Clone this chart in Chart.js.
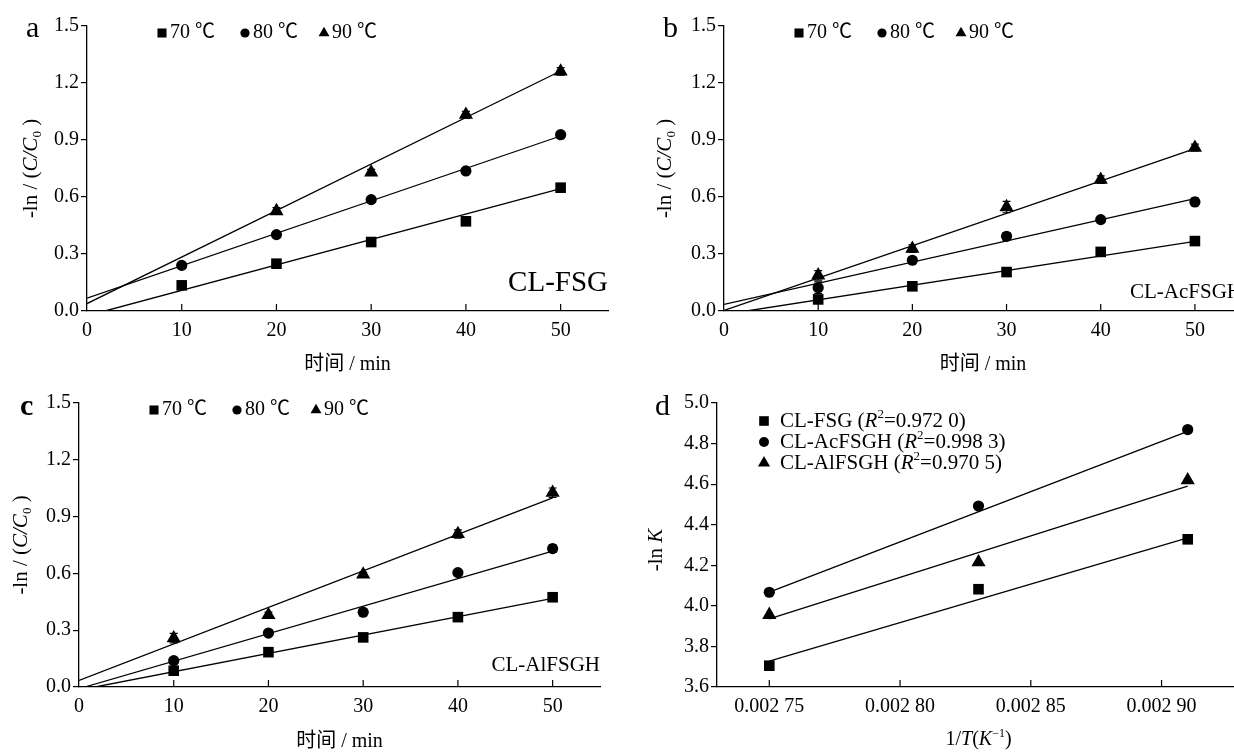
<!DOCTYPE html>
<html>
<head>
<meta charset="utf-8">
<script src="https://cdn.jsdelivr.net/npm/chart.js@4.4.0/dist/chart.umd.min.js"></script>
<style>
html, body { margin: 0; padding: 0; background: #fff; width: 1234px; height: 752px; overflow: hidden; position: relative; }
canvas { position: absolute; }
</style>
</head>
<body>
<canvas id="chartA" style="left:0;top:0;width:617px;height:376px" width="617" height="376"></canvas>
<canvas id="chartB" style="left:617px;top:0;width:640px;height:376px" width="640" height="376"></canvas>
<canvas id="chartC" style="left:0;top:376px;width:617px;height:376px" width="617" height="376"></canvas>
<canvas id="chartD" style="left:617px;top:376px;width:640px;height:376px" width="640" height="376"></canvas>
<script>
// ---- data ----
const times = [10, 20, 30, 40, 50];
const tempLabels = ['70 ℃', '80 ℃', '90 ℃'];
const timeTicks = [0, 10, 20, 30, 40, 50];
const lnTicks = [0, 0.3, 0.6, 0.9, 1.2, 1.5];

// CL-FSG
const fsg70 = [0.135, 0.249, 0.363, 0.472, 0.649];
const fsg80 = [0.240, 0.402, 0.586, 0.737, 0.928];
const fsg90 = [null, 0.526, 0.730, 1.033, 1.261];
const fsg70Err = [0.02, 0.01, 0.01, 0.01, 0.01];
const fsg80Err = [0.01, 0.01, 0.012, 0.01, 0.015];
const fsg90Err = [0, 0.018, 0.015, 0.018, 0.02];
const fsg70Fit = [[1.9, 0], [50, 0.644]];
const fsg80Fit = [[0, 0.068], [50, 0.921]];
const fsg90Fit = [[0, 0.039], [50, 1.263]];

// CL-AcFSGH
const ac70 = [0.061, 0.130, 0.205, 0.311, 0.368];
const ac80 = [0.123, 0.267, 0.393, 0.481, 0.574];
const ac90 = [0.188, 0.328, 0.547, 0.691, 0.860];
const ac70Err = [0.01, 0.01, 0.01, 0.012, 0.01];
const ac80Err = [0.03, 0.015, 0.02, 0.01, 0.02];
const ac90Err = [0.025, 0.02, 0.03, 0.02, 0.018];
const ac70Fit = [[2.4, 0], [50, 0.366]];
const ac80Fit = [[0, 0.035], [50, 0.591]];
const ac90Fit = [[0, 0.003], [50, 0.855]];

// CL-AlFSGH
const al70 = [0.086, 0.184, 0.262, 0.369, 0.474];
const al80 = [0.139, 0.285, 0.395, 0.604, 0.731];
const al90 = [0.258, 0.381, 0.595, 0.808, 1.026];
const al70Err = [0.01, 0.01, 0.01, 0.01, 0.01];
const al80Err = [0.01, 0.01, 0.015, 0.015, 0.02];
const al90Err = [0.025, 0.015, 0.01, 0.022, 0.025];
const al70Fit = [[1.7, 0], [50, 0.468]];
const al80Fit = [[0.6, 0], [50, 0.718]];
const al90Fit = [[0, 0.035], [50, 0.999]];

// Arrhenius plot
const invT = [0.00275, 0.00283, 0.00291];
const lnkFsg = [3.705, 4.082, 4.328];
const lnkAc = [4.067, 4.492, 4.869];
const lnkAl = [3.956, 4.215, 4.620];
const lnkFsgFit = [3.728, 4.335];
const lnkAcFit = [4.068, 4.860];
const lnkAlFit = [3.936, 4.590];
const sampleNames = ['CL-FSG', 'CL-AcFSGH', 'CL-AlFSGH'];
const r2Values = ['0.972 0', '0.998 3', '0.970 5'];
const invTTicks = [0.00275, 0.00280, 0.00285, 0.00290];
const lnkTicks = [3.6, 3.8, 4.0, 4.2, 4.4, 4.6, 4.8, 5.0];

// ---- drawing helpers ----
const SERIF = "'Liberation Serif', 'Times New Roman', 'Noto Sans CJK SC', serif";
const markerStyles = ['rect', 'circle', 'triangle'];
const markerRadii = [7.5, 5.6, 8.2];

function fontFor(style, size) {
    const small = style === 'sub' || style === 'sup';
    const s = small ? Math.round(size * 0.62) : size;
    return (style === 'i' ? 'italic ' : '') + (style === 'b' ? 'bold ' : '') + s + 'px ' + SERIF;
}

// parts: [[text, style], ...] where style is '', 'i', 'b', 'sub' or 'sup'
function drawRich(ctx, parts, x, y, size, align) {
    let total = 0;
    parts.forEach(p => { ctx.font = fontFor(p[1], size); total += ctx.measureText(p[0]).width; });
    let cx = align === 'center' ? x - total / 2 : align === 'right' ? x - total : x;
    ctx.textAlign = 'left';
    ctx.textBaseline = 'middle';
    parts.forEach(p => {
        ctx.font = fontFor(p[1], size);
        const dy = p[1] === 'sub' ? size * 0.3 : p[1] === 'sup' ? -size * 0.32 : 0;
        ctx.fillText(p[0], cx, y + dy);
        cx += ctx.measureText(p[0]).width;
    });
}

const panelDecor = {
    id: 'panelDecor',
    beforeDatasetsDraw(chart, args, opts) {
        // error bars with caps
        const ctx = chart.ctx;
        const xs = chart.scales.x, ys = chart.scales.y;
        ctx.save();
        ctx.strokeStyle = '#000';
        ctx.lineWidth = 1.2;
        (opts.errors || []).forEach((errs, si) => {
            errs.forEach((e, i) => {
                const v = opts.series[si][i];
                if (v === null || !e) return;
                const px = xs.getPixelForValue(times[i]);
                const top = ys.getPixelForValue(v + e);
                const bot = ys.getPixelForValue(v - e);
                ctx.beginPath();
                ctx.moveTo(px, top); ctx.lineTo(px, bot);
                ctx.moveTo(px - 4, top); ctx.lineTo(px + 4, top);
                ctx.moveTo(px - 4, bot); ctx.lineTo(px + 4, bot);
                ctx.stroke();
            });
        });
        ctx.restore();
    },
    afterDraw(chart, args, opts) {
        const ctx = chart.ctx;
        const area = chart.chartArea;
        const xs = chart.scales.x;
        ctx.save();
        ctx.fillStyle = '#000';
        ctx.strokeStyle = '#000';

        // inward tick marks on the x axis
        ctx.lineWidth = 1.2;
        xs.ticks.forEach(t => {
            const px = xs.getPixelForValue(t.value);
            if (Math.abs(px - area.left) < 2) return;
            ctx.beginPath();
            ctx.moveTo(px, area.bottom);
            ctx.lineTo(px, area.bottom - 7);
            ctx.stroke();
        });

        // panel letter
        ctx.font = (opts.letterBold ? 'bold ' : '') + '30px ' + SERIF;
        ctx.textAlign = 'left';
        ctx.textBaseline = 'alphabetic';
        ctx.fillText(opts.letter, opts.letterPos[0], opts.letterPos[1]);

        // axis titles
        drawRich(ctx, opts.xTitle, (area.left + area.right) / 2, opts.xTitleY, 20, 'center');
        ctx.save();
        ctx.translate(opts.yTitleX, (area.top + area.bottom) / 2 + (opts.yTitleShift || 0));
        ctx.rotate(-Math.PI / 2);
        drawRich(ctx, opts.yTitle, 0, 0, 21, 'center');
        ctx.restore();

        // sample tag inside the plot
        if (opts.tag) {
            ctx.font = opts.tagSize + 'px ' + SERIF;
            ctx.textAlign = 'right';
            ctx.textBaseline = 'middle';
            ctx.fillText(opts.tag, area.right, opts.tagY);
        }

        // legend
        const lg = opts.legend;
        lg.items.forEach((item, i) => {
            const mx = area.left + lg.x[i];
            const my = area.top + lg.y[i];
            Chart.helpers.drawPoint(ctx, {
                pointStyle: markerStyles[i], radius: lg.radii[i], borderWidth: 0, rotation: 0
            }, mx, my);
            drawRich(ctx, item, mx + lg.gap, my, lg.size, 'left');
        });
        ctx.restore();
    }
};

function pts(xv, yv) {
    return xv.map((x, i) => ({ x: x, y: yv[i] })).filter(p => p.y !== null);
}

function buildDatasets(xv, series, fits) {
    const sets = [];
    fits.forEach(f => {
        sets.push({
            data: f.map(p => ({ x: p[0], y: p[1] })),
            showLine: true, pointRadius: 0, borderColor: '#000', borderWidth: 1.3,
            order: 2
        });
    });
    series.forEach((s, i) => {
        sets.push({
            data: pts(xv, s),
            showLine: false, pointStyle: markerStyles[i], pointRadius: markerRadii[i],
            backgroundColor: '#000', borderColor: '#000', borderWidth: 0,
            order: 1
        });
    });
    return sets;
}

function axisCommon(tickValues, fmt) {
    return {
        type: 'linear',
        afterBuildTicks: s => { s.ticks = tickValues.map(v => ({ value: v })); },
        ticks: {
            color: '#000', font: { family: SERIF, size: 20 },
            autoSkip: false, maxRotation: 0, callback: fmt
        },
        border: { display: true, color: '#000', width: 1.3 }
    };
}

function makeChart(id, geo, xRange, xTicks, xFmt, yRange, yTicks, yFmt, datasets, decor) {
    const canvas = document.getElementById(id);
    const W = canvas.width, H = canvas.height;
    const xAxis = axisCommon(xTicks, xFmt);
    Object.assign(xAxis, {
        min: xRange[0], max: xRange[1],
        grid: { display: false },
        afterFit: s => { s.height = H - geo.bottom; }
    });
    xAxis.ticks.padding = 0;
    const yAxis = axisCommon(yTicks, yFmt);
    Object.assign(yAxis, {
        min: yRange[0], max: yRange[1],
        grid: { drawOnChartArea: false, drawTicks: true, tickLength: 6, color: '#000', lineWidth: 1.2 },
        afterFit: s => { s.width = geo.left; }
    });
    yAxis.ticks.padding = 2;
    return new Chart(canvas, {
        type: 'scatter',
        data: { datasets: datasets },
        options: {
            responsive: false,
            animation: false,
            layout: { padding: { left: 0, top: geo.top, right: W - geo.right, bottom: 0 } },
            scales: { x: xAxis, y: yAxis },
            plugins: { legend: { display: false }, tooltip: { enabled: false }, panelDecor: decor }
        },
        plugins: [panelDecor]
    });
}

const lnTitle = [['-ln / (', ''], ['C', 'i'], ['/', 'i'], ['C', 'i'], ['0', 'sub'], [' )', '']];
const timeTitle = [['时间 / min', '']];
const tempLegend = {
    items: tempLabels.map(t => [[t, '']]),
    x: [75, 158, 237], y: [7, 7, 7], radii: [6.4, 4.6, 6.3], gap: 8, size: 20
};
const fmtTime = v => String(v);
const fmtLn = v => v.toFixed(1);

makeChart('chartA', { left: 87, top: 26, right: 608, bottom: 311 },
    [0, 55], timeTicks, fmtTime, [0, 1.5], lnTicks, fmtLn,
    buildDatasets(times, [fsg70, fsg80, fsg90], [fsg70Fit, fsg80Fit, fsg90Fit]),
    {
        letter: 'a', letterPos: [26, 37], xTitle: timeTitle, xTitleY: 365, yTitle: lnTitle, yTitleX: 31,
        tag: 'CL-FSG', tagSize: 29, tagY: 283, legend: tempLegend,
        series: [fsg70, fsg80, fsg90], errors: [fsg70Err, fsg80Err, fsg90Err]
    });

makeChart('chartB', { left: 107, top: 26, right: 625, bottom: 311 },
    [0, 55], timeTicks, fmtTime, [0, 1.5], lnTicks, fmtLn,
    buildDatasets(times, [ac70, ac80, ac90], [ac70Fit, ac80Fit, ac90Fit]),
    {
        letter: 'b', letterPos: [46, 37], xTitle: timeTitle, xTitleY: 365, yTitle: lnTitle, yTitleX: 48,
        tag: 'CL-AcFSGH', tagSize: 21, tagY: 292, legend: tempLegend,
        series: [ac70, ac80, ac90], errors: [ac70Err, ac80Err, ac90Err]
    });

makeChart('chartC', { left: 79, top: 27, right: 600, bottom: 311 },
    [0, 55], timeTicks, fmtTime, [0, 1.5], lnTicks, fmtLn,
    buildDatasets(times, [al70, al80, al90], [al70Fit, al80Fit, al90Fit]),
    {
        letter: 'c', letterBold: true, letterPos: [20, 39], xTitle: timeTitle, xTitleY: 366, yTitle: lnTitle, yTitleX: 21,
        tag: 'CL-AlFSGH', tagSize: 21, tagY: 289, legend: tempLegend,
        series: [al70, al80, al90], errors: [al70Err, al80Err, al90Err]
    });

const arrheniusFits = [lnkFsgFit, lnkAcFit, lnkAlFit].map(f => [[invT[0], f[0]], [invT[2], f[1]]]);
makeChart('chartD', { left: 100, top: 27, right: 623, bottom: 311 },
    [0.00273, 0.00293], invTTicks, v => v.toFixed(5).replace(/^(0\.\d{3})/, '$1 '),
    [3.6, 5.0], lnkTicks, fmtLn,
    buildDatasets(invT, [lnkFsg, lnkAc, lnkAl], arrheniusFits),
    {
        letter: 'd', letterPos: [38, 39],
        xTitle: [['1/', ''], ['T', 'i'], ['(', ''], ['K', 'i'], ['−1', 'sup'], [')', '']], xTitleY: 364,
        yTitle: [['-ln ', ''], ['K', 'i']], yTitleX: 39, yTitleShift: 5,
        legend: {
            items: sampleNames.map((n, i) => [[n + ' (', ''], ['R', 'i'], ['2', 'sup'], ['=' + r2Values[i] + ')', '']]),
            x: [47, 47, 47], y: [18, 39, 60], radii: [6.8, 5, 7], gap: 16, size: 21
        },
        series: [], errors: []
    });
</script>
</body>
</html>
